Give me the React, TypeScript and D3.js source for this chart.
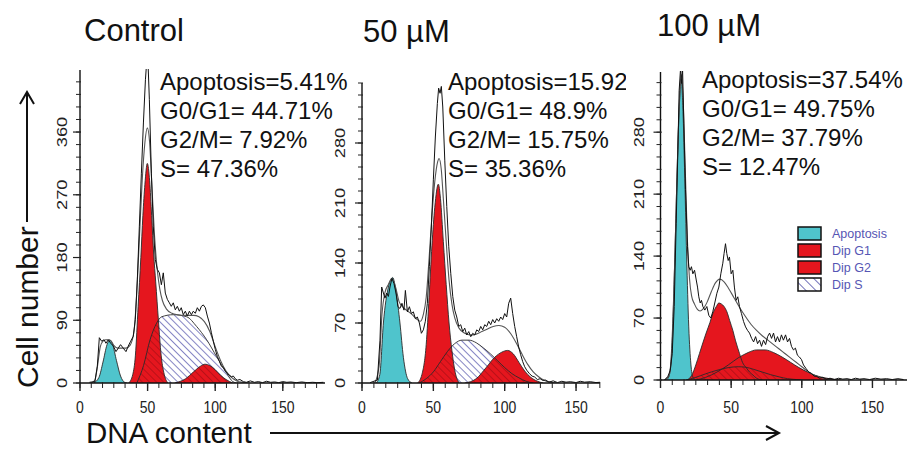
import React from "react";
import * as d3 from "d3";

type Pt = [number, number];

// ---------- Control ----------
const controlRaw: Pt[] = [
  [7, 1], [11, 2], [12.8, 24], [14.3, 65], [16, 60], [17.8, 62], [19.2, 57], [20.9, 62], [22.7, 57],
  [24.7, 53], [26.6, 45], [28.3, 50], [30, 55], [32, 50], [34, 45], [35.7, 53], [37.5, 60], [39.4, 67],
  [40.9, 91], [42.4, 148], [43.9, 225], [45.4, 301], [46.9, 373], [48.4, 435], [49.3, 460], [50.3, 460],
  [51.3, 407], [52.8, 301], [54.2, 225], [55.7, 177], [57.2, 163], [58.7, 158], [60.2, 141], [61.6, 158],
  [63.1, 129], [64.6, 120], [66.1, 115], [67.5, 110], [69, 115], [70.5, 105], [72, 110], [73.5, 103],
  [74.9, 108], [76.4, 98], [77.9, 103], [79.4, 96], [80.9, 103], [82.4, 98], [83.8, 103], [85.3, 100],
  [86.8, 108], [88.3, 103], [89.8, 110], [91.2, 112], [92.7, 108], [94.2, 96], [95.7, 86], [97.2, 72],
  [98.6, 60], [100.1, 48], [101.6, 38], [103.1, 31], [104.6, 24], [106.1, 22], [107.5, 17], [109, 14],
  [110.5, 11], [112, 9], [113.4, 10], [114.9, 6], [116.4, 4], [118.3, 5], [120.8, 2], [123, 1], [126, 3],
  [129, 1], [132, 2], [135, 0.5], [138, 2.5], [141, 1], [144, 1.5], [147, 0.5], [150, 2], [153, 1],
  [156, 1.5], [160, 0.5], [164, 1.5], [168, 0.5], [172, 1], [176, 0.5], [180, 1],
];
const controlFit: Pt[] = [
  [8, 0], [11, 4], [13, 25], [15, 52], [17, 60], [19, 62], [21, 62], [23, 60], [25, 54], [28, 50], [31, 50],
  [34, 50], [37, 54], [40, 75], [42, 130], [44, 210], [46, 290], [48, 345], [49.8, 366], [51.5, 345],
  [53, 290], [55, 215], [57, 165], [59, 135], [61, 118], [64, 106], [68, 100], [72, 98], [78, 97], [84, 97],
  [88, 95], [92, 88], [96, 74], [100, 52], [104, 32], [108, 17], [112, 8], [116, 3], [120, 1], [125, 0],
];
const controlApop: Pt[] = [
  [10, 0], [14, 8], [17, 30], [20, 55], [22, 62], [24, 56], [27, 32], [30, 10], [33, 1], [35, 0],
];
const controlG1: Pt[] = [
  [36, 0], [39, 12], [41, 40], [43, 110], [45, 180], [46.5, 240], [48, 285], [49.8, 315], [51.5, 290],
  [53, 240], [54.5, 185], [56, 145], [58, 90], [60, 40], [62, 15], [65, 0],
];
const controlG2: Pt[] = [
  [70, 0], [78, 6], [84, 16], [89, 24], [92.5, 27], [96, 25], [100, 19], [104, 11], [108, 5], [113, 0],
];
const controlS: Pt[] = [
  [42, 0], [47, 25], [51.8, 62], [56.7, 86], [60.4, 95], [69, 98], [78.9, 95], [86.3, 81], [93.7, 62],
  [101, 38], [108.5, 14], [113, 2], [116, 0],
];

// ---------- 50 µM ----------
const mid50Raw: Pt[] = [
  [5.6, 0.4], [10.8, 3.5], [12.6, 50], [13.8, 112], [15, 105], [16.1, 99], [17.3, 105], [18.5, 101],
  [19.6, 112], [21, 122], [22.4, 116], [23.8, 105], [25.2, 89], [26.6, 87], [28, 93], [29.4, 85],
  [30.4, 108], [31.8, 83], [33.2, 89], [34.6, 81], [36, 83], [37.4, 75], [38.8, 77], [40.2, 70], [41.6, 58],
  [43, 62], [44.4, 72], [45.8, 93], [47.2, 136], [48.6, 182], [50, 237], [51.4, 287], [52.8, 326],
  [53.7, 344], [54.7, 338], [55.6, 346], [56.6, 322], [58, 260], [59.4, 206], [60.8, 159], [62.2, 128],
  [63.6, 101], [65, 85], [66.4, 77], [67.8, 66], [69.2, 68], [70.6, 60], [72, 64], [73.4, 56], [74.8, 60],
  [76.2, 54], [77.6, 58], [79, 56], [80.4, 62], [81.8, 60], [83.2, 66], [84.6, 62], [86, 68], [87.4, 66],
  [88.8, 72], [90.2, 68], [91.6, 74], [93, 70], [94.4, 75], [95.8, 72], [97.2, 77], [98.6, 74], [100, 81],
  [101.4, 77], [102.8, 93], [104.2, 99], [105.6, 81], [107, 66], [108.4, 54], [109.8, 42], [111.2, 33],
  [112.6, 25], [114, 19], [115.4, 15], [117.3, 11], [119.2, 8], [121, 7], [122.9, 4], [124.8, 5],
  [126.7, 3], [128.5, 3.5], [131, 1], [134, 2.5], [137, 0.5], [140, 2], [143, 1], [146, 1.5], [150, 0.5],
  [153, 2], [156, 1], [160, 1.5], [164, 0.5], [168, 1],
];
const mid50Fit: Pt[] = [
  [9, 0], [12, 20], [14, 80], [16, 105], [18.5, 115], [21, 122], [23.5, 112], [26, 95], [29, 88], [32, 84],
  [35, 80], [38, 75], [41, 72], [43, 80], [45, 100], [47, 145], [49, 195], [51, 235], [53, 258], [54, 262],
  [55.5, 250], [57, 215], [59, 165], [61, 120], [63, 92], [65, 76], [68, 64], [72, 58], [76, 56], [80, 57],
  [84, 60], [88, 63], [92, 66], [96, 67], [100, 65], [104, 58], [108, 47], [112, 34], [116, 22], [120, 13],
  [124, 7], [128, 3], [132, 1], [136, 0],
];
const mid50Apop: Pt[] = [
  [10, 0], [12.5, 10], [15, 70], [18.5, 112], [21.5, 123], [24, 105], [26.6, 70], [29, 30], [32, 5], [35, 0],
];
const mid50G1: Pt[] = [
  [39, 0], [42, 10], [45, 45], [47, 100], [49, 160], [51, 205], [53.5, 232], [55, 215], [57, 165], [59, 115],
  [61, 70], [63, 38], [65, 15], [68, 0],
];
const mid50G2: Pt[] = [
  [72, 0], [80, 5], [87, 18], [93, 30], [98, 36], [102, 38], [106, 34], [110, 24], [114, 14], [118, 7],
  [123, 2], [127, 0],
];
const mid50S: Pt[] = [
  [40, 0], [45, 5], [50, 13], [55, 25], [60, 37], [65, 46], [70, 50], [75, 50], [80, 47], [85, 41], [90, 34],
  [95, 26], [100, 18], [105, 11], [110, 6], [115, 2], [120, 0],
];

// ---------- 100 µM ----------
const high100Raw: Pt[] = [
  [2.8, 0], [5.2, 4], [6.9, 11], [8.3, 30], [9.7, 83], [11.1, 177], [12.3, 260], [13.2, 327], [14.2, 352],
  [14.9, 335], [15.6, 352], [16.5, 290], [17.7, 215], [19.1, 151], [20, 128], [21, 124], [21.9, 128],
  [22.9, 120], [24.1, 124], [25.3, 113], [26.2, 105], [27.1, 94], [28.1, 87], [29, 90], [30, 83], [31.4, 79],
  [32.8, 83], [34.2, 73], [35.6, 70], [37, 77], [38.4, 87], [39.9, 98], [41.3, 105], [42.7, 120], [44.1, 132],
  [45, 143], [46, 154], [46.9, 143], [47.9, 135], [48.8, 139], [50, 120], [51.2, 124], [52.3, 105],
  [53.5, 90], [54.7, 94], [55.9, 83], [57.3, 75], [58.8, 66], [60.2, 60], [61.6, 56], [63, 53], [64.5, 47],
  [65.9, 43], [67.3, 49], [68.7, 41], [70.1, 45], [71.5, 38], [72.9, 45], [74.4, 40], [75.8, 49], [77.2, 53],
  [78.6, 47], [80, 53], [81.4, 43], [82.8, 49], [84.2, 43], [85.6, 51], [87, 45], [88.5, 51], [89.9, 43],
  [91.3, 47], [92.7, 38], [94.1, 34], [95.5, 36], [96.9, 28], [98.3, 26], [99.8, 23], [101.2, 17], [103, 13],
  [104.9, 9], [106.8, 7.5], [108.7, 4.5], [110.6, 4], [112.5, 2], [114.9, 3], [117.3, 1], [120, 2],
  [123, 0.5], [126, 2], [129, 1], [132, 1.5], [135, 0.5], [138, 2], [141, 1], [144, 1.5], [148, 0.5],
  [152, 2], [156, 1], [160, 1.5], [164, 0.5], [168, 1.5], [172, 0.5],
];
const high100Fit: Pt[] = [
  [3, 0], [6, 5], [8, 30], [9.5, 100], [11, 190], [12.5, 275], [14, 335], [14.8, 345], [16, 318],
  [17.5, 240], [19, 160], [20.5, 115], [22, 95], [24, 86], [26, 80], [28, 78], [30, 80], [33, 88], [36, 100],
  [39, 110], [42, 114], [45, 111], [48, 104], [52, 93], [56, 82], [60, 72], [64, 63], [68, 56], [72, 50],
  [76, 45], [80, 40], [84, 35], [88, 30], [92, 25], [96, 20], [100, 15], [104, 10], [108, 6], [112, 3.5],
  [116, 1.5], [120, 0.5], [124, 0],
];
const high100Apop: Pt[] = [
  [4, 0], [6, 4], [7.5, 25], [9, 80], [10.5, 160], [12, 250], [13.5, 315], [14.6, 340], [15.8, 310],
  [17, 240], [18.5, 140], [20, 60], [21.5, 18], [23, 3], [25, 0],
];
const high100G1: Pt[] = [
  [19, 0], [22, 5], [25, 17], [27.6, 30], [30, 42], [32.3, 53], [35, 65], [37, 75], [39.5, 83], [41.3, 87],
  [43, 86], [45, 83], [47, 77], [49, 67], [51.2, 56], [53, 45], [55.9, 30], [58, 20], [60.6, 14], [63, 9],
  [65.4, 5.6], [68, 2], [72, 0],
];
const high100G2: Pt[] = [
  [25, 0], [32, 3], [40, 9], [48, 17], [55, 25], [62, 31], [68, 34], [74, 34], [80, 31], [86, 26], [92, 20],
  [98, 14], [104, 9], [110, 5], [116, 2.5], [122, 1], [128, 0],
];
const high100S: Pt[] = [
  [18, 0], [25, 3], [32, 7], [40, 11], [48, 14], [55, 15], [60, 14.5], [66, 12], [72, 9], [78, 6], [84, 3.5],
  [90, 1.5], [96, 0.5], [100, 0],
];

// ---------- labels ----------
const panelTitles = ["Control", "50 µM", "100 µM"];
const apoptosisPct = ["5.41%", "15.92%", "37.54%"];
const g1Pct = ["44.71%", "48.9%", "49.75%"];
const g2Pct = ["7.92%", "15.75%", "37.79%"];
const sPct = ["47.36%", "35.36%", "12.47%"];
const xTickValues = [0, 50, 100, 150];
const yMajorStep = [90, 70, 70];
const legendLabels = ["Apoptosis", "Dip G1", "Dip G2", "Dip S"];

const series = [
  { raw: controlRaw, fit: controlFit, apop: controlApop, g1: controlG1, g2: controlG2, s: controlS },
  { raw: mid50Raw, fit: mid50Fit, apop: mid50Apop, g1: mid50G1, g2: mid50G2, s: mid50S },
  { raw: high100Raw, fit: high100Fit, apop: high100Apop, g1: high100G1, g2: high100G2, s: high100S },
];

// panel geometry (pixels)
const layout = [
  { x0: 80, xEnd: 325, ppu: 1.352, base: 383, top: 70, yMax: 449, yLabOff: 13, xLabY: 412.5, textX: 160, textY: 90, titleX: 84, titleY: 41, clipRight: 360 },
  { x0: 362, xEnd: 600, ppu: 1.427, base: 383, top: 83, yMax: 350, yLabOff: 17, xLabY: 413, textX: 448, textY: 90, titleX: 363, titleY: 42, clipRight: 626 },
  { x0: 660.5, xEnd: 907, ppu: 1.413, base: 380, top: 72, yMax: 348, yLabOff: 17, xLabY: 412.5, textX: 702, textY: 88, titleX: 657, titleY: 36, clipRight: 907 },
];

const FONT = "Arial, 'Liberation Sans', sans-serif";
const CYAN = "#4fc4cc";
const RED = "#e5161e";

function Panel({ i }: { i: number }) {
  const L = layout[i];
  const d = series[i];
  const xMax = (L.xEnd - L.x0) / L.ppu;
  const x = d3.scaleLinear().domain([0, xMax]).range([L.x0, L.xEnd]);
  const y = d3.scaleLinear().domain([0, L.yMax]).range([L.base, L.top]);

  const area = d3.area<Pt>().x((p) => x(p[0])).y0(y(0)).y1((p) => y(p[1])).curve(d3.curveMonotoneX);
  const outline = d3.line<Pt>().x((p) => x(p[0])).y((p) => y(p[1])).curve(d3.curveMonotoneX);
  const rawLine = d3.line<Pt>().x((p) => x(p[0])).y((p) => y(p[1]));

  const step = yMajorStep[i];
  // labelled ticks stop short of the axis top
  const yMajor = d3.range(0, L.yMax - step * 0.3, step);
  const yMinor = d3.range(0, L.yMax + 0.01, step / 5);
  const xMinor = d3.range(0, xMax, 50 / 6);

  const texts = [
    `Apoptosis=${apoptosisPct[i]}`,
    `G0/G1= ${g1Pct[i]}`,
    `G2/M= ${g2Pct[i]}`,
    `S= ${sPct[i]}`,
  ];

  return (
    <g>
      <defs>
        <clipPath id={`plot${i}`}>
          <rect x={L.x0} y={L.top - 1} width={L.xEnd - L.x0} height={L.base - L.top + 1} />
        </clipPath>
        <clipPath id={`red${i}`}>
          <path d={area(d.g1) || ""} />
          <path d={area(d.g2) || ""} />
        </clipPath>
        <clipPath id={`txt${i}`}>
          <rect x={L.textX - 5} y={0} width={L.clipRight - L.textX + 5} height={200} />
        </clipPath>
      </defs>

      {/* title */}
      <text x={L.titleX} y={L.titleY} fontFamily={FONT} fontSize={31} fill="#111">
        {panelTitles[i]}
      </text>

      <g clipPath={`url(#plot${i})`}>
        <path d={area(d.s) || ""} fill="#fff" />
        <path d={area(d.s) || ""} fill="url(#hatchBlue)" />
        <path d={area(d.apop) || ""} fill={CYAN} />
        <path d={area(d.g2) || ""} fill={RED} />
        <path d={area(d.g1) || ""} fill={RED} />
        <g clipPath={`url(#red${i})`}>
          <path d={area(d.s) || ""} fill="url(#hatchRed)" />
        </g>
        {[d.s, d.apop, d.g1, d.g2].map((c, k) => (
          <path key={k} d={outline(c) || ""} fill="none" stroke="#2a2a2a" strokeWidth={0.9} />
        ))}
        <path d={outline(d.fit) || ""} fill="none" stroke="#555" strokeWidth={1.1} />
        <path d={rawLine(d.raw) || ""} fill="none" stroke="#111" strokeWidth={1} />
      </g>

      {/* axes */}
      <line x1={L.x0} x2={L.x0} y1={L.top} y2={L.base} stroke="#111" strokeWidth={1.4} />
      <line x1={L.x0} x2={L.xEnd} y1={L.base} y2={L.base} stroke="#111" strokeWidth={1.6} />
      {yMinor.map((v) => (
        <line key={`ym${v}`} x1={L.x0 - 4} x2={L.x0 + 1} y1={y(v)} y2={y(v)} stroke="#222" strokeWidth={1} />
      ))}
      {yMajor.map((v) => (
        <g key={`yM${v}`}>
          <line x1={L.x0 - 7} x2={L.x0 + 1} y1={y(v)} y2={y(v)} stroke="#222" strokeWidth={1.2} />
          <text
            transform={`translate(${L.x0 - L.yLabOff},${y(v)}) scale(1,1.3) rotate(-90)`}
            textAnchor="middle"
            fontFamily={FONT}
            fontSize={14}
            fill="#222"
          >
            {v}
          </text>
        </g>
      ))}
      {xMinor.map((v) => (
        <line key={`xm${v}`} x1={x(v)} x2={x(v)} y1={L.base - 1} y2={L.base + 5} stroke="#222" strokeWidth={1} />
      ))}
      {xTickValues.map((v) => (
        <g key={`xM${v}`}>
          <line x1={x(v)} x2={x(v)} y1={L.base - 1} y2={L.base + 8} stroke="#222" strokeWidth={1.4} />
          <text
            transform={`translate(${x(v)},${L.xLabY}) scale(1,1.2)`}
            textAnchor="middle"
            fontFamily={FONT}
            fontSize={14}
            fill="#222"
          >
            {v}
          </text>
        </g>
      ))}

      {/* percentages */}
      <g clipPath={`url(#txt${i})`}>
        {texts.map((t, k) => (
          <text key={k} x={L.textX} y={L.textY + k * 29} fontFamily={FONT} fontSize={24} fill="#111">
            {t}
          </text>
        ))}
      </g>
    </g>
  );
}

export default function App() {
  const legendFills = [CYAN, RED, RED, "url(#hatchBlueL)"];
  return (
    <svg
      width={907}
      height={449}
      viewBox="0 0 907 449"
      style={{ position: "absolute", left: 0, top: 0, background: "#fff" }}
    >
      <defs>
        <pattern id="hatchBlue" width={5} height={5} patternUnits="userSpaceOnUse" patternTransform="rotate(-45)">
          <line x1={0} y1={0} x2={0} y2={5} stroke="#34349c" strokeWidth={1.2} />
        </pattern>
        <pattern id="hatchRed" width={5} height={5} patternUnits="userSpaceOnUse" patternTransform="rotate(-45)">
          <line x1={0} y1={0} x2={0} y2={5} stroke="#8e0c12" strokeWidth={1} />
        </pattern>
        <pattern id="hatchBlueL" width={7} height={7} patternUnits="userSpaceOnUse" patternTransform="rotate(-45)">
          <line x1={0} y1={0} x2={0} y2={7} stroke="#34349c" strokeWidth={1.4} />
        </pattern>
      </defs>
      <rect width={907} height={449} fill="#fff" />

      {[0, 1, 2].map((i) => (
        <Panel key={i} i={i} />
      ))}

      {/* legend */}
      {legendLabels.map((lab, k) => (
        <g key={lab}>
          <rect x={798} y={227 + k * 17} width={23} height={13} fill="#fff" />
          <rect x={798} y={227 + k * 17} width={23} height={13} fill={legendFills[k]} stroke="#111" strokeWidth={1.5} />
          <text x={832} y={238 + k * 17} fontFamily={FONT} fontSize={12.5} fill="#5656b4">
            {lab}
          </text>
        </g>
      ))}

      {/* y label */}
      <text transform="translate(38,388) rotate(-90)" fontFamily={FONT} fontSize={30} fill="#111">
        Cell number
      </text>
      <line x1={27} x2={27} y1={222} y2={92} stroke="#111" strokeWidth={2} />
      <polyline points="20,104 27,92 34,104" fill="none" stroke="#111" strokeWidth={2} />

      {/* x label */}
      <text x={86} y={442.5} fontFamily={FONT} fontSize={29.5} fill="#111">
        DNA content
      </text>
      <line x1={270} x2={778} y1={433} y2={433} stroke="#111" strokeWidth={2} />
      <polyline points="766,426 779,433 766,440" fill="none" stroke="#111" strokeWidth={2} />
    </svg>
  );
}
